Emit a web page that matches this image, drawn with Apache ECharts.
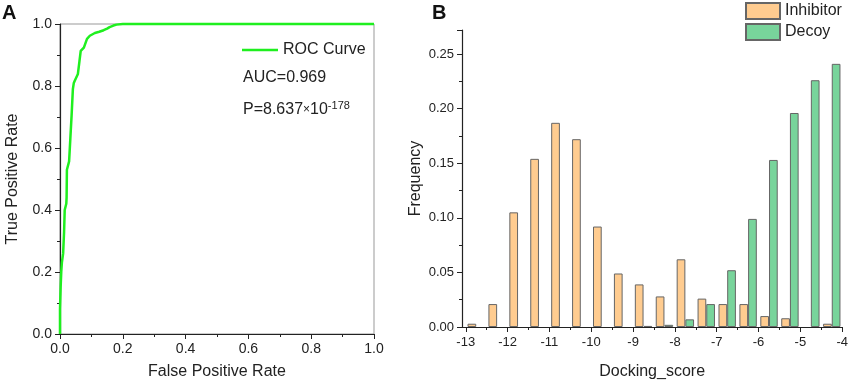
<!DOCTYPE html>
<html>
<head>
<meta charset="utf-8">
<script src="https://cdn.jsdelivr.net/npm/echarts@6/dist/echarts.min.js"></script>
<style>
  html, body { margin: 0; padding: 0; background: #fff; }
  #chart { width: 851px; height: 385px; }
</style>
</head>
<body>
<div id="chart"></div>
<script>
// panel A - ROC curve points
const fprValues = [0, 0, 0.002, 0.004, 0.006, 0.010, 0.013, 0.015, 0.020, 0.021, 0.022, 0.029, 0.033, 0.037, 0.041, 0.044, 0.047, 0.057, 0.062, 0.066, 0.076, 0.086, 0.095, 0.111, 0.125, 0.139, 0.150, 0.158, 0.170, 0.180, 0.200, 0.250, 1.0];
const tprValues = [0, 0.08, 0.15, 0.20, 0.23, 0.26, 0.33, 0.40, 0.42, 0.44, 0.53, 0.557, 0.632, 0.706, 0.79, 0.81, 0.817, 0.839, 0.88, 0.913, 0.924, 0.952, 0.962, 0.971, 0.975, 0.98, 0.985, 0.99, 0.995, 0.998, 1.0, 1.0, 1.0];

// panel B - histogram bins (centers), frequencies
const binCenters = [-12.75, -12.25, -11.75, -11.25, -10.75, -10.25, -9.75, -9.25, -8.75, -8.25, -7.75, -7.25, -6.75, -6.25, -5.75, -5.25, -4.75, -4.25];
const inhibitorFreq = [0.003, 0.021, 0.105, 0.154, 0.187, 0.172, 0.092, 0.049, 0.039, 0.028, 0.062, 0.026, 0.021, 0.021, 0.010, 0.008, 0, 0.003];
const decoyFreq = [0, 0, 0, 0, 0, 0, 0, 0, 0.001, 0.002, 0.007, 0.021, 0.052, 0.099, 0.153, 0.196, 0.226, 0.241];
const scoreTicks = [-13, -12, -11, -10, -9, -8, -7, -6, -5, -4];
const scoreMinorTicks = [-12.5, -11.5, -10.5, -9.5, -8.5, -7.5, -6.5, -5.5, -4.5];

const font = "'Liberation Sans', Arial, sans-serif";
const axisCol = "#222";
const txtCol = "#222";

const chart = echarts.init(document.getElementById("chart"));

const rocData = fprValues.map((x, i) => [x, tprValues[i]]);
// empty bins get no bar at all (otherwise the border draws a line)
const inhData = binCenters.map((x, i) => [x, inhibitorFreq[i]]).filter((d) => d[1] > 0);
const decData = binCenters.map((x, i) => [x, decoyFreq[i]]).filter((d) => d[1] > 0);

const option = {
  animation: false,
  textStyle: { fontFamily: font },
  grid: [
    { left: 60, top: 24, width: 314, height: 314, show: true, borderColor: "#999", borderWidth: 1 },
    { left: 462, top: 30, width: 381, height: 303 },
  ],
  legend: [
    {
      data: [{ name: "ROC Curve", icon: "rect" }],
      left: 242, top: 42, padding: 0,
      itemWidth: 36, itemHeight: 2.5,
      textStyle: { fontSize: 16, color: txtCol, fontFamily: font },
    },
    {
      data: ["Inhibitor", "Decoy"],
      orient: "vertical",
      left: 745, top: 2, padding: 0,
      icon: "rect",
      itemWidth: 34, itemHeight: 16, itemGap: 3,
      textStyle: { fontSize: 16, color: txtCol, fontFamily: font },
    },
  ],
  xAxis: [
    {
      gridIndex: 0, type: "value", min: 0, max: 1, interval: 0.2,
      name: "False Positive Rate", nameLocation: "middle", nameGap: 30,
      nameTextStyle: { fontSize: 16, color: txtCol },
      axisLine: { lineStyle: { color: axisCol, width: 1.2 } },
      axisTick: { length: 5, lineStyle: { color: axisCol } },
      minorTick: { show: true, splitNumber: 2, length: 3, lineStyle: { color: axisCol } },
      axisLabel: { fontSize: 14, color: txtCol, margin: 8, formatter: (v) => v.toFixed(1) },
      splitLine: { show: false },
    },
    {
      gridIndex: 1, type: "value", min: -13.09, max: -4, position: "bottom",
      name: "Docking_score", nameLocation: "middle", nameGap: 37,
      nameTextStyle: { fontSize: 16, color: txtCol },
      axisLine: { onZero: false, lineStyle: { color: axisCol, width: 1.2 } },
      axisTick: { length: 5, customValues: scoreTicks, lineStyle: { color: axisCol } },
      axisLabel: { fontSize: 13, color: txtCol, margin: 9, customValues: scoreTicks },
      splitLine: { show: false },
    },
    {
      // half-unit minor ticks
      gridIndex: 1, type: "value", min: -13.09, max: -4, position: "bottom",
      axisLine: { show: false, onZero: false },
      axisTick: { length: 3, customValues: scoreMinorTicks, lineStyle: { color: axisCol } },
      axisLabel: { show: false, customValues: scoreMinorTicks },
      splitLine: { show: false },
    },
  ],
  yAxis: [
    {
      gridIndex: 0, type: "value", min: 0, max: 1, interval: 0.2,
      name: "True Positive Rate", nameLocation: "middle", nameGap: 39,
      nameTextStyle: { fontSize: 16, color: txtCol },
      axisLine: { show: true, lineStyle: { color: axisCol, width: 1.2 } },
      axisTick: { show: true, length: 5, lineStyle: { color: axisCol } },
      minorTick: { show: true, splitNumber: 2, length: 3, lineStyle: { color: axisCol } },
      axisLabel: { fontSize: 14, color: txtCol, margin: 8, formatter: (v) => v.toFixed(1) },
      splitLine: { show: false },
    },
    {
      gridIndex: 1, type: "value", min: 0, max: 0.272, interval: 0.05,
      name: "Frequency", nameLocation: "middle", nameGap: 38,
      nameTextStyle: { fontSize: 16, color: txtCol },
      axisLine: { show: true, onZero: false, lineStyle: { color: axisCol, width: 1.2 } },
      axisTick: { show: true, length: 5, lineStyle: { color: axisCol } },
      minorTick: { show: true, splitNumber: 2, length: 3, lineStyle: { color: axisCol } },
      axisLabel: {
        fontSize: 13, color: txtCol, margin: 8,
        formatter: (v) => (v > 0.26 ? "" : v.toFixed(2)),
      },
      splitLine: { show: false },
    },
  ],
  series: [
    {
      name: "ROC Curve", type: "line", xAxisIndex: 0, yAxisIndex: 0,
      data: rocData, symbol: "none", clip: false,
      lineStyle: { color: "#1fef1f", width: 2.5 },
      itemStyle: { color: "#1fef1f" },
      z: 5,
    },
    {
      name: "Inhibitor", type: "bar", xAxisIndex: 1, yAxisIndex: 1,
      data: inhData, barWidth: 8.7, barGap: "0%",
      itemStyle: { color: "#ffcc90", borderColor: "#666", borderWidth: 1 },
    },
    {
      name: "Decoy", type: "bar", xAxisIndex: 1, yAxisIndex: 1,
      data: decData, barWidth: 8.7, barGap: "0%",
      itemStyle: { color: "#78d49b", borderColor: "#666", borderWidth: 1 },
    },
  ],
  graphic: [
    { type: "text", left: 2, top: 3, style: { text: "A", font: "bold 20px " + font, fill: "#111" } },
    { type: "text", left: 432, top: 3, style: { text: "B", font: "bold 20px " + font, fill: "#111" } },
    { type: "text", left: 243, top: 70, style: { text: "AUC=0.969", font: "16px " + font, fill: txtCol } },
    {
      type: "text", left: 243, top: 100,
      style: {
        text: "{a|P=8.637}{m|×}{a|10}{s|-178}",
        rich: {
          a: { fontSize: 16, fontFamily: font, fill: txtCol, lineHeight: 19 },
          m: { fontSize: 12, fontFamily: font, fill: txtCol, lineHeight: 19 },
          s: { fontSize: 11, fontFamily: font, fill: txtCol, verticalAlign: "top", lineHeight: 11 },
        },
      },
    },
  ],
};

chart.setOption(option);
</script>
</body>
</html>
